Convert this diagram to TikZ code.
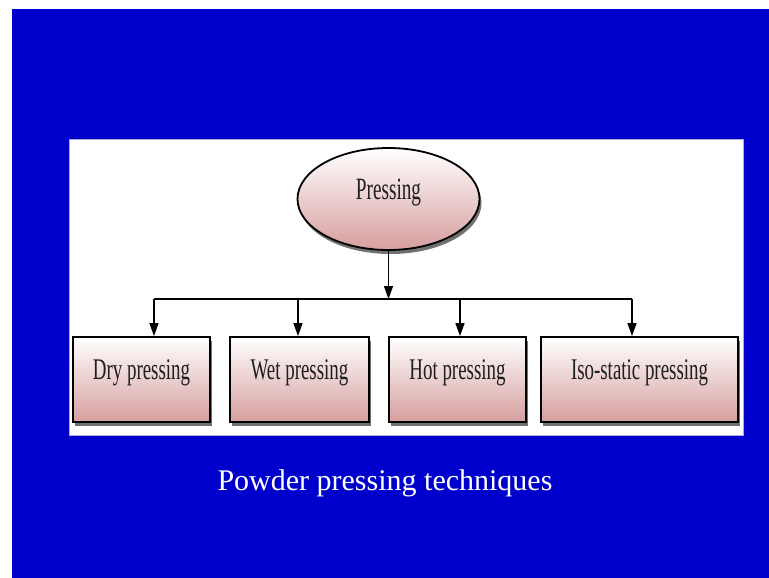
\documentclass[tikz,border=0pt]{standalone}
\usepackage{fontspec}
\setmainfont{Liberation Serif}
\usetikzlibrary{arrows.meta,shapes.geometric,shadows}
\definecolor{bgblue}{RGB}{0,0,204}
\definecolor{pinkbot}{RGB}{214,158,158}
\definecolor{txt}{RGB}{30,30,30}
\definecolor{panelrim}{RGB}{170,170,220}
\begin{document}
\begin{tikzpicture}[x=1pt,y=-1pt,
  box/.style={rectangle, draw=black, line width=1.8pt, top color=white, bottom color=pinkbot,
    minimum height=85pt, inner sep=0pt, text=txt, font=\fontsize{30}{36}\selectfont,
    text height=12pt, text depth=12pt,
    drop shadow={shadow xshift=2pt, shadow yshift=-4pt, fill=black!65, opacity=0.85}},
  oval/.style={ellipse, draw=black, line width=1.8pt, top color=white, bottom color=pinkbot,
    minimum width=182pt, minimum height=102pt, inner sep=0pt, text=txt,
    font=\fontsize{31}{36}\selectfont, text height=12pt, text depth=12pt,
    drop shadow={shadow xshift=2pt, shadow yshift=-4pt, fill=black!65, opacity=0.85}},
  conn/.style={line width=1.3pt, draw=black},
  arr/.style={conn, -{Triangle[length=13pt,width=9pt]}},
  caption/.style={text=white, font=\fontsize{30}{36}\selectfont, anchor=base, inner sep=0pt}]
  \useasboundingbox (0,0) rectangle (769,578);
  \fill[white] (0,0) rectangle (769,578);
  \fill[bgblue] (12,9) rectangle (769,578);
  \draw[draw=panelrim, line width=1pt, fill=white] (69,139) rectangle (743,435);

  \node[oval] (press) at (388.5,199) {\scalebox{0.62}[1]{Pressing}};

  \node[box, minimum width=137pt] (dry) at (141.5,379.5) {\scalebox{0.63}[1]{Dry pressing}};
  \node[box, minimum width=139pt] (wet) at (299.5,379.5) {\scalebox{0.63}[1]{Wet pressing}};
  \node[box, minimum width=137pt] (hot) at (457.5,379.5) {\scalebox{0.63}[1]{Hot pressing}};
  \node[box, minimum width=197pt] (iso) at (639.5,379.5) {\scalebox{0.63}[1]{Iso-static pressing}};

  \coordinate (j) at (388.5,299);
  \coordinate (b1) at (154,299);
  \coordinate (b2) at (298,299);
  \coordinate (b3) at (460,299);
  \coordinate (b4) at (632,299);

  \draw[arr] (press.south) -- (j);
  \draw[conn] (b1) -- (b4);
  \draw[arr] (b1) -- (b1 |- dry.north);
  \draw[arr] (b2) -- (b2 |- wet.north);
  \draw[arr] (b3) -- (b3 |- hot.north);
  \draw[arr] (b4) -- (b4 |- iso.north);

  \node[caption] (cap) at (385,490) {Powder pressing techniques};
\end{tikzpicture}
\end{document}
